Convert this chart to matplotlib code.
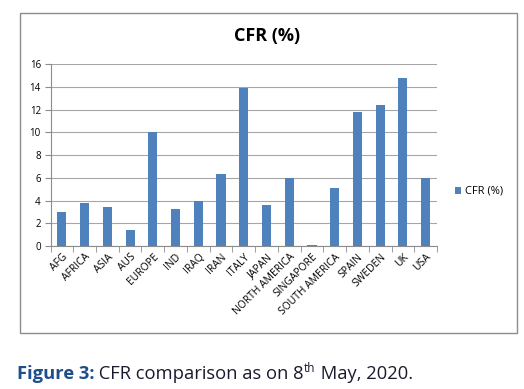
import matplotlib.pyplot as plt
import matplotlib.patches as patches

categories = ['AFG', 'AFRICA', 'ASIA', 'AUS', 'EUROPE', 'IND', 'IRAQ', 'IRAN', 'ITALY',
              'JAPAN', 'NORTH AMERICA', 'SINGAPORE', 'SOUTH AMERICA', 'SPAIN', 'SWEDEN',
              'UK', 'USA']
cfr = [3.0, 3.8, 3.4, 1.4, 10.0, 3.3, 4.0, 6.3, 13.9, 3.6, 6.0, 0.1, 5.1, 11.8, 12.4, 14.8, 6.0]
yticks = [0, 2, 4, 6, 8, 10, 12, 14, 16]

plt.rcParams['font.family'] = ['Open Sans', 'DejaVu Sans']

fig = plt.figure(figsize=(5.24, 3.89), dpi=100)

# chart frame
fig.patches.append(patches.Rectangle((20 / 524, 1 - 333 / 389), 497 / 524, 320 / 389,
                                     transform=fig.transFigure, fill=False,
                                     edgecolor='#8c8c8c', linewidth=1))

ax = fig.add_axes([0.0964, 0.3676, 0.7376, 0.4671])
x = list(range(len(categories)))
ax.bar(x, cfr, width=0.4, color='#4F81BD', label='CFR (%)', zorder=3)
ax.set_xlim(-0.5, len(categories) - 0.5)
ax.set_ylim(0, 16)
ax.set_yticks(yticks)
ax.set_yticklabels([str(v) for v in yticks], fontsize=7)
ax.yaxis.grid(True, color='#a6a6a6', linewidth=0.8, zorder=0)
ax.set_xticks(x)
ax.set_xticklabels(categories, rotation=45, ha='right', rotation_mode='anchor', fontsize=7.5)
ax.tick_params(axis='x', length=0, pad=4)
ax.set_xticks([i - 0.5 for i in range(len(categories) + 1)], minor=True)
ax.tick_params(axis='x', which='minor', length=4, color='#8c8c8c')
ax.tick_params(axis='y', length=4, color='#8c8c8c', pad=3)
for s in ['top', 'right']:
    ax.spines[s].set_visible(False)
for s in ['left', 'bottom']:
    ax.spines[s].set_color('#8c8c8c')

ax.legend(loc='center left', bbox_to_anchor=(1.02, 0.30), frameon=False, fontsize=8,
          handlelength=0.6, handleheight=0.6, handletextpad=0.3)

fig.text(267 / 524, 1 - 36 / 389, 'CFR (%)', ha='center', va='center',
         fontsize=13, fontweight='bold')

# caption with superscript
fig.canvas.draw()
r = fig.canvas.get_renderer()
cy = 1 - 379 / 389
parts = [('Figure 3:', 'bold', '#1F4E8C', 0, 13.2),
         (' CFR comparison as on 8', 'normal', '#1a1a2e', 0, 13.2),
         ('th', 'normal', '#1a1a2e', 7 / 389, 8.5),
         (' May, 2020.', 'normal', '#1a1a2e', 0, 13.2)]
xpos = 17 / 524
for txt, wt, col, dy, fs in parts:
    t = fig.text(xpos, cy + dy, txt, fontsize=fs, fontweight=wt, color=col,
                 ha='left', va='baseline')
    bb = t.get_window_extent(renderer=r)
    xpos += bb.width / fig.bbox.width

fig.savefig('out.png', dpi=100)
